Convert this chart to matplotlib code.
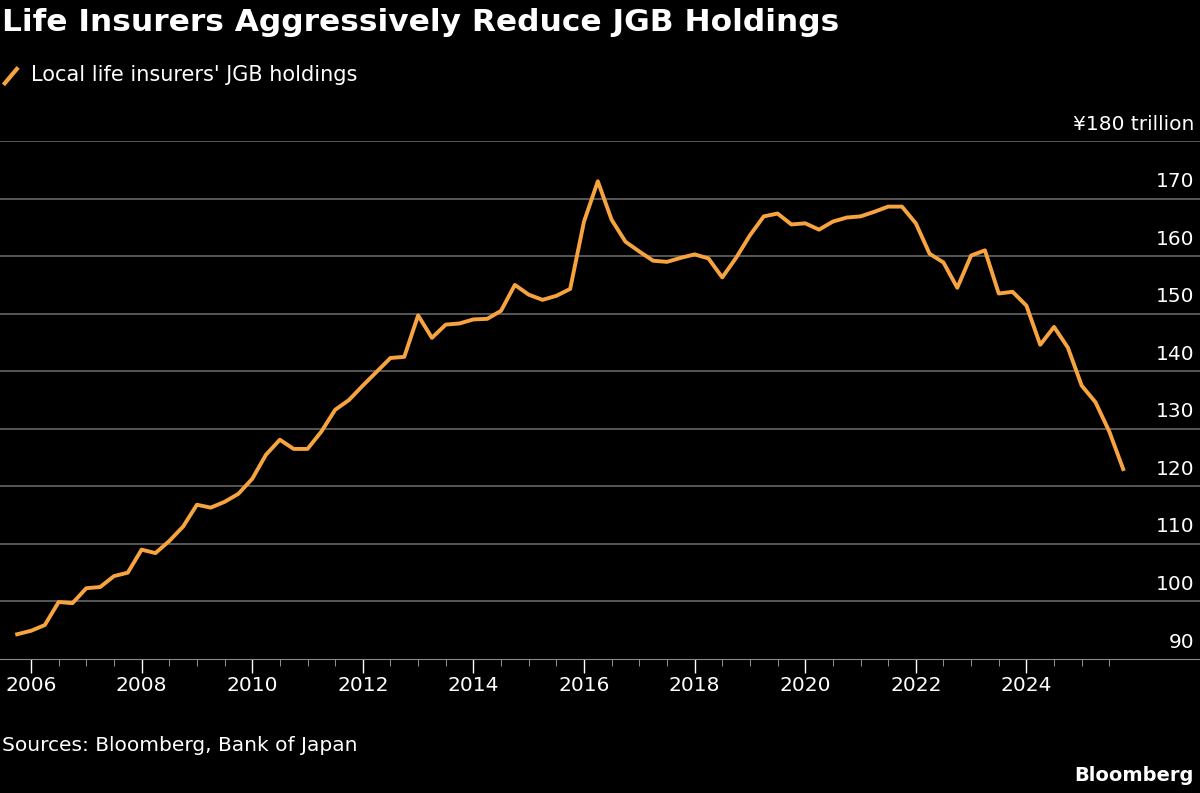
import matplotlib.pyplot as plt
import numpy as np

# quarterly readings, from 2005 Q3/Q4 to 2025 Q3
start_year = 2005.75
holdings = [94.3, 94.9, 95.9, 99.9, 99.7,
            102.3, 102.5, 104.4, 105.0,
            109.0, 108.4, 110.5, 113.0,
            116.8, 116.3, 117.3, 118.7,
            121.3, 125.5, 128.1, 126.5,
            126.5, 129.5, 133.3, 135.0,
            137.5, 139.9, 142.3, 142.5,
            149.7, 145.8, 148.1, 148.3,
            149.0, 149.1, 150.5, 155.0,
            153.3, 152.4, 153.1, 154.3,
            166.0, 173.0, 166.3, 162.5,
            160.8, 159.2, 159.0, 159.7,
            160.3, 159.6, 156.3, 159.7,
            163.6, 166.9, 167.4, 165.5,
            165.7, 164.6, 166.0, 166.7,
            166.9, 167.7, 168.6, 168.6,
            165.7, 160.4, 158.9, 154.5,
            160.1, 161.0, 153.5, 153.8,
            151.4, 144.6, 147.7, 144.1,
            137.5, 134.6, 129.5, 123.0]
dates = start_year + 0.25 * np.arange(len(holdings))
y_ticks = [90, 100, 110, 120, 130, 140, 150, 160, 170, 180]
x_major = list(range(2006, 2026, 2))

fig = plt.figure(figsize=(12, 7.93), dpi=100, facecolor='black')
ax = fig.add_axes([0, 1 - 659 / 793, 1, (659 - 141) / 793])
ax.set_facecolor('black')
ax.plot(dates, holdings, color='#f7a440', lw=2.8, solid_joinstyle='round')
ax.set_xlim(2006 - 31 / 55.3, 2006 + 1169 / 55.3)
ax.set_ylim(90, 180)

for v in y_ticks[1:]:
    ax.axhline(v, color='#666666', lw=1.2, zorder=0)
for v in y_ticks:
    lab = '¥180 trillion' if v == 180 else str(v)
    ax.text(0.995, v + 1.3, lab, transform=ax.get_yaxis_transform(),
            ha='right', va='bottom', color='white', fontsize=14.5)

for s in ['top', 'right', 'left']:
    ax.spines[s].set_visible(False)
ax.spines['bottom'].set_color('#888888')
ax.set_yticks([])
ax.set_xticks(x_major)
ax.set_xticks(np.arange(2006.5, 2026, 0.5), minor=True)
ax.tick_params(axis='x', colors='white', labelsize=14.5, length=10, width=1, pad=2)
ax.tick_params(axis='x', which='minor', colors='#aaaaaa', length=5)

fig.text(0.002, 0.972, 'Life Insurers Aggressively Reduce JGB Holdings',
         color='white', fontsize=22.5, fontweight='bold', va='center')
fig.lines.append(plt.Line2D([0.004, 0.014], [0.895, 0.913], color='#f7a440',
                            lw=3, transform=fig.transFigure))
fig.text(0.026, 0.905, "Local life insurers' JGB holdings", color='white',
         fontsize=15, va='center')
fig.text(0.002, 0.06, 'Sources: Bloomberg, Bank of Japan', color='white',
         fontsize=14.5, va='center')
fig.text(0.995, 0.022, 'Bloomberg', color='white', fontsize=14,
         fontweight='bold', ha='right', va='center')

fig.savefig('out.png', dpi=100, facecolor='black')
